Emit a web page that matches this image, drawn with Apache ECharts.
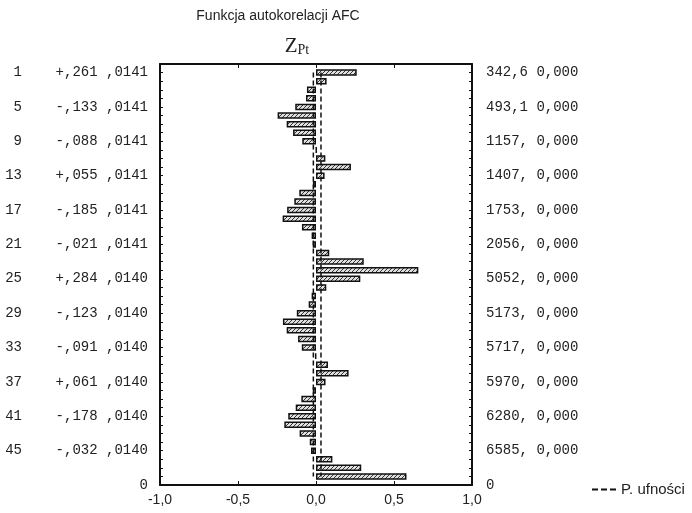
<!DOCTYPE html>
<html>
<head>
<meta charset="utf-8">
<script src="https://cdn.jsdelivr.net/npm/echarts@6/dist/echarts.min.js"></script>
<style>
html,body{margin:0;padding:0;background:#fff;}
#chart{width:692px;height:513px;}
</style>
</head>
<body>
<div id="chart"></div>
<script>
// Lags 1..48 and autocorrelation values
var lags = [1,2,3,4,5,6,7,8,9,10,11,12,13,14,15,16,17,18,19,20,21,22,23,24,
            25,26,27,28,29,30,31,32,33,34,35,36,37,38,39,40,41,42,43,44,45,46,47,48];
var acf = [0.261,0.068,-0.058,-0.064,-0.133,-0.246,-0.188,-0.147,-0.088,0.003,0.060,0.224,
           0.055,-0.020,-0.107,-0.139,-0.185,-0.214,-0.090,-0.028,-0.021,0.085,0.306,0.656,
           0.284,0.066,-0.028,-0.047,-0.123,-0.212,-0.188,-0.115,-0.091,-0.004,0.077,0.209,
           0.061,-0.021,-0.094,-0.130,-0.178,-0.203,-0.105,-0.040,-0.032,0.105,0.290,0.580];
// Confidence limits (P. ufności)
var confLow = -0.017;
var confHigh = 0.032;
// Labelled rows
var labelLags = [1,5,9,13,17,21,25,29,33,37,41,45];
var acfText = ['+,261','-,133','-,088','+,055','-,185','-,021','+,284','-,123','-,091','+,061','-,178','-,032'];
var seText = [',0141',',0141',',0141',',0141',',0141',',0141',',0140',',0140',',0140',',0140',',0140',',0140'];
var qText = ['342,6','493,1','1157,','1407,','1753,','2056,','5052,','5173,','5717,','5970,','6280,','6585,'];
var pText = ['0,000','0,000','0,000','0,000','0,000','0,000','0,000','0,000','0,000','0,000','0,000','0,000'];
var xTicks = ['-1,0','-0,5','0,0','0,5','1,0'];

// categories: top end, lags, bottom end
var cats = ['top'].concat(lags.map(String)).concat(['0']);
var barData = ['-'].concat(acf).concat(['-']);

function pad2(n){ n = String(n); return n.length < 2 ? ' ' + n : n; }
var leftLabels = {}, rightLabels = {};
labelLags.forEach(function(l, i){
  leftLabels[l] = pad2(l) + '    ' + acfText[i] + ' ' + seText[i];
  rightLabels[l] = qText[i] + ' ' + pText[i];
});

// hatch pattern
var pc = document.createElement('canvas');
pc.width = 4; pc.height = 4;
var g = pc.getContext('2d');
g.fillStyle = '#e0e0e0'; g.fillRect(0,0,4,4);
g.strokeStyle = '#333'; g.lineWidth = 1;
g.beginPath();
g.moveTo(0,4); g.lineTo(4,0);
g.moveTo(-1,1); g.lineTo(1,-1);
g.moveTo(3,5); g.lineTo(5,3);
g.stroke();

var chart = echarts.init(document.getElementById('chart'), null, {renderer:'canvas'});
var axisLineStyle = {color:'#111', width:2};
var option = {
  animation: false,
  backgroundColor: '#fff',
  title: [{
    text: 'Funkcja autokorelacji AFC',
    left: 273, top: 4, textAlign: 'center',
    textStyle: {fontFamily:'Liberation Sans', fontSize:14, fontWeight:'normal', color:'#222'}
  },{
    text: '{z|Z}{p|Pt}',
    left: 292, top: 30, textAlign: 'center',
    textStyle: {fontWeight:'normal', rich: {
      z: {fontFamily:'Liberation Serif', fontSize:21, fontWeight:'normal', color:'#222', verticalAlign:'bottom'},
      p: {fontFamily:'Liberation Serif', fontSize:14, fontWeight:'normal', color:'#222', padding:[8,0,0,0], verticalAlign:'bottom'}
    }}
  }],
  legend: {
    data: [{name:'P. ufności', icon:'path://M0,0h6v2h-6z M9,0h6v2h-6z M18,0h6v2h-6z'}],
    left: 587, top: 477,
    itemWidth: 24, itemHeight: 2, itemGap: 6,
    itemStyle: {color:'#111', borderWidth:0},
    textStyle: {fontFamily:'Liberation Sans', fontSize:15, color:'#222'}
  },
  grid: {left:160, top:64, right:220, bottom:28, containLabel:false},
  xAxis: [{
    type:'value', min:-1, max:1, interval:0.5, position:'bottom',
    axisLine:{show:true, onZero:false, lineStyle:axisLineStyle},
    axisTick:{show:true, inside:true, length:4, lineStyle:{color:'#111'}},
    splitLine:{show:false},
    axisLabel:{margin:8, fontFamily:'Liberation Sans', fontSize:14, color:'#222',
      formatter:function(v){ var i = Math.round((v + 1) / 0.5); return xTicks[i] || ''; }}
  },{
    type:'value', min:-1, max:1, interval:0.5, position:'top',
    axisLine:{show:true, onZero:false, lineStyle:axisLineStyle},
    axisTick:{show:true, inside:true, length:4, lineStyle:{color:'#111'}},
    splitLine:{show:false}, axisLabel:{show:false}
  }],
  yAxis: [{
    type:'category', data:cats, inverse:true, boundaryGap:false, position:'left',
    axisLine:{show:true, onZero:false, lineStyle:axisLineStyle},
    axisTick:{show:true, inside:true, length:3, interval:0, lineStyle:{color:'#111'}},
    splitLine:{show:false},
    axisLabel:{interval:0, margin:12, fontFamily:'Liberation Mono', fontSize:14, color:'#222',
      formatter:function(v, idx){
        if (idx === cats.length - 1) return '0';
        return leftLabels[v] || '';
      }}
  },{
    type:'category', data:cats, inverse:true, boundaryGap:false, position:'right',
    axisLine:{show:true, onZero:false, lineStyle:axisLineStyle},
    axisTick:{show:true, inside:true, length:3, interval:0, lineStyle:{color:'#111'}},
    splitLine:{show:false},
    axisLabel:{interval:0, margin:14, fontFamily:'Liberation Mono', fontSize:14, color:'#222',
      formatter:function(v, idx){
        if (idx === cats.length - 1) return '0';
        return rightLabels[v] || '';
      }}
  }],
  series: [{
    name:'AFC', type:'bar', xAxisIndex:0, yAxisIndex:0,
    data: barData, barWidth: 6.5,
    itemStyle:{color:{image:pc, repeat:'repeat'}, borderColor:'#111', borderWidth:1.5},
    z: 2
  },{
    name:'P. ufności', type:'line', xAxisIndex:0, yAxisIndex:0,
    data: [[confLow, 1],[confLow, lags.length]], symbol:'none',
    itemStyle:{color:'#111'},
    lineStyle:{color:'#111', width:1.5, type:[5,3]}, z:3
  },{
    name:'P. ufności', type:'line', xAxisIndex:0, yAxisIndex:0,
    data: [[confHigh, 1],[confHigh, lags.length]], symbol:'none',
    itemStyle:{color:'#111'},
    lineStyle:{color:'#111', width:1.5, type:[5,3]}, z:3
  }]
};
chart.setOption(option);
</script>
</body>
</html>
